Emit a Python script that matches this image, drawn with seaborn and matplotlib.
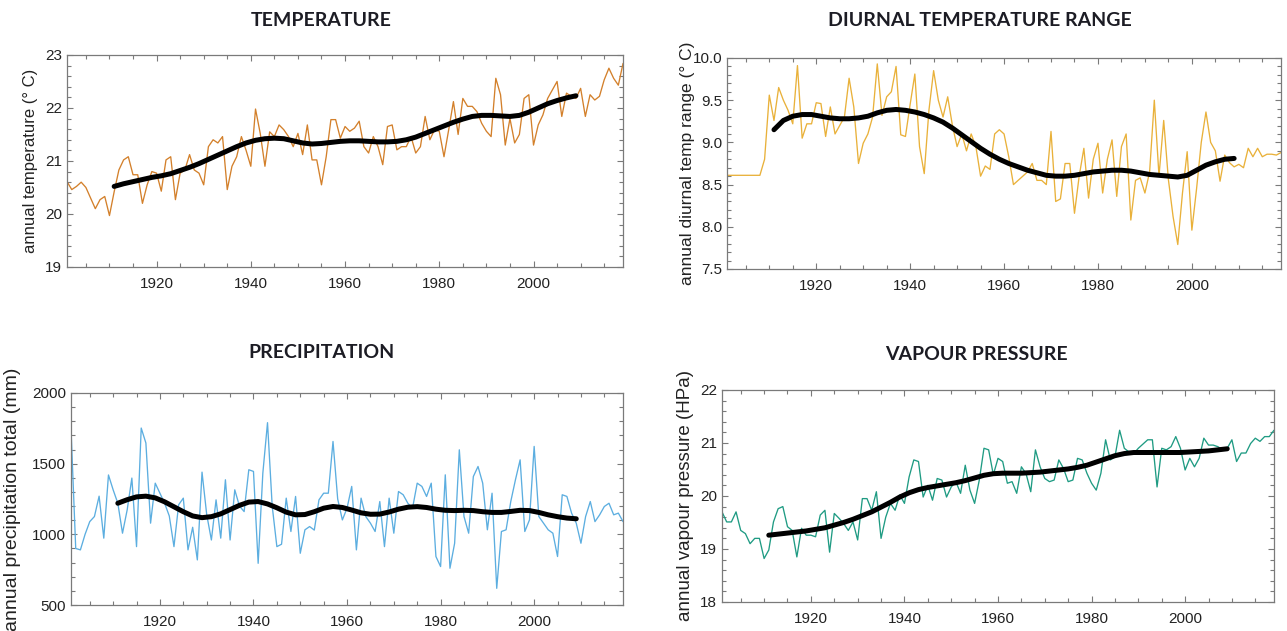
import numpy as np
import matplotlib
matplotlib.use("Agg")
import matplotlib.pyplot as plt
from matplotlib.ticker import MultipleLocator
import seaborn as sns

sns.set_style("ticks")
plt.rcParams["font.family"] = ["Liberation Sans", "DejaVu Sans"]

years = np.arange(1901, 2020)
smooth_years = np.arange(1911, 2010, 2)

# annual mean temperature (deg C)
temp = [20.61, 20.46, 20.52, 20.60, 20.50, 20.30, 20.10, 20.27, 20.33, 19.97,
        20.42, 20.83, 21.02, 21.08, 20.74, 20.74, 20.20, 20.55, 20.80, 20.77,
        20.43, 21.02, 21.08, 20.27, 20.77, 20.83, 21.12, 20.83, 20.77, 20.55,
        21.27, 21.40, 21.34, 21.46, 20.46, 20.90, 21.08, 21.46, 21.20, 20.90,
        21.98, 21.52, 20.90, 21.55, 21.46, 21.68, 21.59, 21.46, 21.27, 21.52,
        21.12, 21.68, 21.02, 21.02, 20.55, 21.08, 21.78, 21.78, 21.43, 21.65,
        21.56, 21.62, 21.75, 21.27, 21.15, 21.46, 21.27, 20.93, 21.65, 21.68,
        21.21, 21.27, 21.27, 21.46, 21.15, 21.27, 21.84, 21.40, 21.59, 21.56,
        21.08, 21.59, 22.12, 21.50, 22.18, 22.03, 22.03, 21.93, 21.71, 21.56,
        21.46, 22.56, 22.25, 21.30, 21.80, 21.34, 21.50, 22.18, 22.25, 21.30,
        21.68, 21.87, 22.18, 22.34, 22.50, 21.84, 22.28, 22.22, 22.18, 22.37,
        21.84, 22.25, 22.15, 22.22, 22.53, 22.75, 22.56, 22.43, 22.84]
temp_smooth = [20.52, 20.57, 20.61, 20.65, 20.69, 20.72, 20.76, 20.82, 20.88, 20.95,
               21.03, 21.11, 21.19, 21.27, 21.34, 21.39, 21.42, 21.43, 21.42, 21.38,
               21.34, 21.32, 21.33, 21.35, 21.37, 21.38, 21.38, 21.37, 21.36, 21.36,
               21.37, 21.40, 21.45, 21.52, 21.59, 21.66, 21.73, 21.79, 21.84, 21.86,
               21.86, 21.85, 21.84, 21.86, 21.92, 22.00, 22.08, 22.14, 22.19, 22.23]

# diurnal temperature range (deg C)
dtr = [8.61, 8.61, 8.61, 8.61, 8.61, 8.61, 8.61, 8.61, 8.80, 9.56,
       9.26, 9.65, 9.50, 9.38, 9.22, 9.91, 9.05, 9.22, 9.22, 9.47,
       9.46, 9.07, 9.42, 9.10, 9.20, 9.30, 9.76, 9.42, 8.75, 8.99,
       9.10, 9.30, 9.93, 9.32, 9.54, 9.60, 9.90, 9.09, 9.07, 9.45,
       9.81, 8.95, 8.63, 9.38, 9.85, 9.50, 9.30, 9.54, 9.20, 8.95,
       9.10, 8.90, 9.10, 8.95, 8.60, 8.72, 8.68, 9.10, 9.15, 9.10,
       8.83, 8.50, 8.55, 8.60, 8.65, 8.75, 8.55, 8.55, 8.50, 9.13,
       8.30, 8.33, 8.75, 8.75, 8.16, 8.60, 8.93, 8.34, 8.80, 8.99,
       8.40, 8.80, 9.03, 8.36, 8.95, 9.10, 8.08, 8.55, 8.58, 8.40,
       8.65, 9.50, 8.60, 9.26, 8.56, 8.12, 7.79, 8.40, 8.89, 7.96,
       8.45, 9.00, 9.36, 9.00, 8.90, 8.54, 8.85, 8.76, 8.71, 8.74,
       8.70, 8.93, 8.83, 8.93, 8.83, 8.86, 8.86, 8.85, 8.88]
dtr_smooth = [9.15, 9.26, 9.31, 9.33, 9.33, 9.31, 9.29, 9.28, 9.28, 9.29,
              9.31, 9.35, 9.38, 9.39, 9.38, 9.36, 9.33, 9.29, 9.24, 9.17,
              9.09, 9.01, 8.93, 8.86, 8.80, 8.75, 8.71, 8.67, 8.64, 8.61,
              8.60, 8.60, 8.61, 8.63, 8.65, 8.66, 8.67, 8.67, 8.66, 8.64,
              8.62, 8.61, 8.60, 8.59, 8.61, 8.67, 8.73, 8.77, 8.80, 8.81]

# annual precipitation total (mm)
precip = [1740, 900, 890, 1000, 1090, 1126, 1270, 973, 1420, 1315,
          1220, 1008, 1173, 1398, 913, 1752, 1646, 1079, 1362, 1291,
          1220, 1130, 913, 1209, 1256, 890, 1050, 819, 1440, 1140,
          960, 1244, 973, 1386, 960, 1315, 1200, 1161, 1457, 1445,
          795, 1433, 1790, 1200, 913, 930, 1256, 1020, 1268, 866,
          1032, 1055, 1030, 1244, 1291, 1291, 1657, 1250, 1102, 1185,
          1339, 890, 1256, 1126, 1079, 1020, 1232, 913, 1256, 1008,
          1303, 1280, 1220, 1185, 1362, 1339, 1268, 1362, 843, 772,
          1421, 760, 937, 1598, 1126, 1008, 1409, 1480, 1362, 1032,
          1291, 618, 1020, 1032, 1232, 1386, 1527, 1020, 1102, 1622,
          1126, 1079, 1032, 1008, 843, 1280, 1268, 1150, 1079, 937,
          1126, 1232, 1090, 1138, 1197, 1220, 1138, 1150, 1090]
precip_smooth = [1220, 1245, 1265, 1270, 1258, 1230, 1195, 1160, 1130, 1118,
                 1125, 1145, 1175, 1205, 1228, 1232, 1215, 1188, 1157, 1138,
                 1140, 1160, 1185, 1197, 1190, 1172, 1152, 1142, 1143, 1158,
                 1178, 1192, 1196, 1190, 1178, 1170, 1168, 1170, 1168, 1160,
                 1155, 1155, 1162, 1170, 1168, 1155, 1138, 1125, 1115, 1110]

# annual vapour pressure (hPa)
vap = [19.70, 19.51, 19.51, 19.70, 19.35, 19.29, 19.10, 19.20, 19.20, 18.82,
       18.98, 19.51, 19.76, 19.80, 19.42, 19.35, 18.85, 19.39, 19.26, 19.26,
       19.23, 19.64, 19.73, 18.94, 19.67, 19.58, 19.48, 19.35, 19.51, 19.17,
       19.95, 19.95, 19.73, 20.08, 19.20, 19.60, 19.86, 19.73, 20.02, 19.86,
       20.36, 20.68, 20.65, 19.98, 20.20, 19.92, 20.33, 20.30, 19.98, 20.17,
       20.27, 20.05, 20.58, 20.11, 19.86, 20.30, 20.90, 20.87, 20.40, 20.71,
       20.65, 20.24, 20.27, 20.05, 20.55, 20.42, 20.08, 20.87, 20.55, 20.33,
       20.27, 20.30, 20.68, 20.52, 20.27, 20.30, 20.71, 20.68, 20.43, 20.24,
       20.11, 20.43, 21.06, 20.68, 20.74, 21.24, 20.90, 20.83, 20.80, 20.90,
       20.98, 21.06, 21.06, 20.17, 20.90, 20.87, 20.93, 21.12, 20.90, 20.49,
       20.71, 20.55, 20.71, 21.09, 20.96, 20.96, 20.93, 20.87, 20.90, 21.06,
       20.65, 20.81, 20.81, 20.99, 21.09, 21.03, 21.12, 21.12, 21.24]
vap_smooth = [19.26, 19.28, 19.30, 19.32, 19.34, 19.37, 19.40, 19.45, 19.50, 19.56,
              19.63, 19.70, 19.79, 19.88, 19.98, 20.06, 20.12, 20.16, 20.19, 20.22,
              20.25, 20.29, 20.34, 20.39, 20.42, 20.43, 20.43, 20.43, 20.44, 20.45,
              20.47, 20.49, 20.51, 20.54, 20.58, 20.64, 20.70, 20.76, 20.80, 20.82,
              20.82, 20.82, 20.82, 20.82, 20.82, 20.83, 20.84, 20.85, 20.87, 20.89]

panels = [
    # title, series, smooth, colour, ylabel, ylim, major, minor, rect, title xy, label x, label size
    ("TEMPERATURE", temp, temp_smooth, "#d3802b", "annual temperature (° C)",
     (19, 23), 1, 0.2, [0.0521, 0.5769, 0.432, 0.336], (321, 21), -0.052, 12),
    ("DIURNAL TEMPERATURE RANGE", dtr, dtr_smooth, "#e9b13a", "annual diurnal temp range (° C)",
     (7.5, 10), 0.5, 0.1, [0.5649, 0.5737, 0.4305, 0.3344], (980, 21), -0.058, 12.5),
    ("PRECIPITATION", precip, precip_smooth, "#5caee0", "annual precipitation total (mm)",
     (500, 2000), 500, 100, [0.0552, 0.0412, 0.4289, 0.336], (321, 352), -0.09, 14),
    ("VAPOUR PRESSURE", vap, vap_smooth, "#1f9b83", "annual vapour pressure (HPa)",
     (18, 22), 1, 0.2, [0.5610, 0.0460, 0.4289, 0.336], (976, 354), -0.05, 13.5),
]

W, H = 1287, 631
fig = plt.figure(figsize=(W / 100, H / 100), dpi=100)

for title, series, smooth, col, ylab, ylim, major, minor, rect, txy, lx, lsize in panels:
    ax = fig.add_axes(rect)
    sns.lineplot(x=years, y=series, ax=ax, color=col, lw=0.95)
    sns.lineplot(x=smooth_years, y=smooth, ax=ax, color="black", lw=3.6,
                 solid_capstyle="round")
    ax.set_xlim(1901, 2019)
    ax.set_ylim(*ylim)
    ax.xaxis.set_major_locator(MultipleLocator(20))
    ax.xaxis.set_minor_locator(MultipleLocator(5))
    ax.yaxis.set_major_locator(MultipleLocator(major))
    ax.yaxis.set_minor_locator(MultipleLocator(minor))
    ax.tick_params(which="both", direction="in", top=True, right=True,
                   color="#7a7a7a", width=0.8, labelsize=11, labelcolor="#222222")
    ax.tick_params(which="major", length=4)
    ax.tick_params(which="minor", length=3)
    ax.tick_params(axis="x", pad=7)
    for s in ax.spines.values():
        s.set_color("#7a7a7a")
        s.set_linewidth(0.9)
    ax.set_xlabel("")
    ax.set_ylabel(ylab, fontsize=lsize, color="#222222")
    ax.yaxis.set_label_coords(lx, 0.5)
    fig.text(txy[0] / W, 1 - txy[1] / H, title, ha="center", va="center",
             family=["Lato", "DejaVu Sans"], fontweight="bold", fontsize=14,
             color="#1c1c24")

fig.savefig("out.png", dpi=100)
